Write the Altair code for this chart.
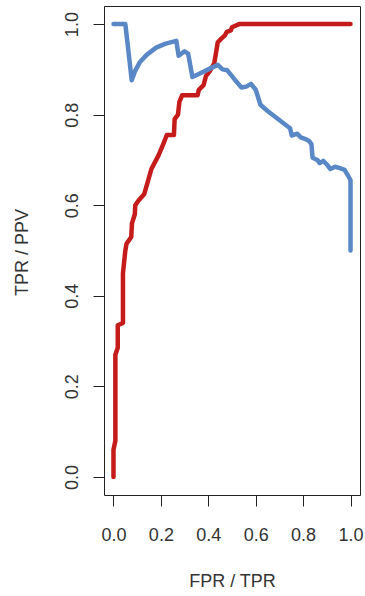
import altair as alt
import pandas as pd

# ROC curve: false positive rate vs true positive rate
roc_fpr = [0.000, 0.000, 0.008, 0.008, 0.018, 0.018, 0.040, 0.040, 0.050, 0.055,
           0.075, 0.078, 0.090, 0.092, 0.105, 0.130, 0.160, 0.190, 0.210, 0.225,
           0.255, 0.258, 0.272, 0.278, 0.290, 0.355, 0.360, 0.380, 0.390, 0.405,
           0.425, 0.432, 0.440, 0.455, 0.470, 0.478, 0.495, 0.500, 0.530, 1.000]
roc_tpr = [0.000, 0.060, 0.080, 0.270, 0.285, 0.335, 0.340, 0.450, 0.500, 0.515,
           0.530, 0.560, 0.580, 0.600, 0.610, 0.625, 0.680, 0.710, 0.735, 0.755,
           0.755, 0.790, 0.800, 0.828, 0.843, 0.843, 0.855, 0.865, 0.885, 0.895,
           0.913, 0.935, 0.960, 0.968, 0.975, 0.983, 0.986, 0.993, 1.000, 1.000]

# Precision-recall curve: true positive rate vs positive predictive value
pr_tpr = [0.000, 0.050, 0.077, 0.090, 0.110, 0.140, 0.180, 0.220, 0.265, 0.275,
          0.300, 0.315, 0.333, 0.360, 0.400, 0.440, 0.460, 0.480, 0.500, 0.520,
          0.540, 0.560, 0.580, 0.600, 0.620, 0.650, 0.690, 0.720, 0.745, 0.752,
          0.775, 0.790, 0.810, 0.825, 0.835, 0.840, 0.860, 0.870, 0.885, 0.900,
          0.915, 0.935, 0.955, 0.975, 0.990, 1.000, 1.000]
pr_ppv = [1.000, 1.000, 0.876, 0.895, 0.915, 0.932, 0.948, 0.957, 0.963, 0.930,
          0.940, 0.935, 0.883, 0.890, 0.900, 0.910, 0.900, 0.898, 0.885, 0.872,
          0.860, 0.862, 0.868, 0.855, 0.822, 0.808, 0.792, 0.780, 0.770, 0.754,
          0.758, 0.750, 0.746, 0.742, 0.735, 0.705, 0.700, 0.693, 0.698, 0.690,
          0.680, 0.685, 0.682, 0.678, 0.665, 0.655, 0.500]

tick_values = [0.0, 0.2, 0.4, 0.6, 0.8, 1.0]

roc = pd.DataFrame({"x": roc_fpr, "y": roc_tpr, "i": range(len(roc_fpr))})
pr = pd.DataFrame({"x": pr_tpr, "y": pr_ppv, "i": range(len(pr_tpr))})

FONT = "Liberation Sans"
TEXT = "#333333"
DOMAIN = [-0.04, 1.04]

x_enc = alt.X(
    "x:Q",
    scale=alt.Scale(domain=DOMAIN, nice=False, zero=False),
    axis=alt.Axis(
        values=tick_values, format=".1f", title="FPR / TPR",
        grid=False, domain=False, tickSize=11, tickColor="#222222", tickWidth=1,
        labelFont=FONT, labelFontSize=18, labelColor=TEXT,
        labelBaseline="alphabetic", labelPadding=34.5, labelFlush=False,
        titleFont=FONT, titleFontSize=18, titleColor=TEXT, titleFontWeight="normal",
        titleBaseline="alphabetic", titleAlign="center", titleX=128, titleY=91.5,
    ),
)
y_enc = alt.Y(
    "y:Q",
    scale=alt.Scale(domain=DOMAIN, nice=False, zero=False),
    axis=alt.Axis(
        values=tick_values, format=".1f", title="TPR / PPV",
        grid=False, domain=False, tickSize=11, tickColor="#222222", tickWidth=1,
        labelFont=FONT, labelFontSize=18, labelColor=TEXT,
        labelAngle=270, labelAlign="center", labelBaseline="alphabetic",
        labelPadding=15.5, labelFlush=False,
        titleFont=FONT, titleFontSize=18, titleColor=TEXT, titleFontWeight="normal",
        titleAngle=270, titleBaseline="alphabetic", titleAlign="center",
        titleX=-76.5, titleY=246,
    ),
)

line_style = dict(strokeWidth=4.5, strokeCap="round", strokeJoin="round")

roc_line = alt.Chart(roc).mark_line(color="#C51B1B", **line_style).encode(
    x=x_enc, y=y_enc, order="i:Q"
)
pr_line = alt.Chart(pr).mark_line(color="#5A88C6", **line_style).encode(
    x=x_enc, y=y_enc, order="i:Q"
)

chart = (
    alt.layer(roc_line, pr_line)
    .properties(
        width=256,
        height=489,
        autosize=alt.AutoSizeParams(type="none"),
        padding={"left": 104, "top": 6, "right": 5, "bottom": 101},
        background="white",
    )
    .configure_view(stroke="#222222", strokeWidth=1)
)

chart.save("out.html", embed_options={"renderer": "svg", "actions": False})
